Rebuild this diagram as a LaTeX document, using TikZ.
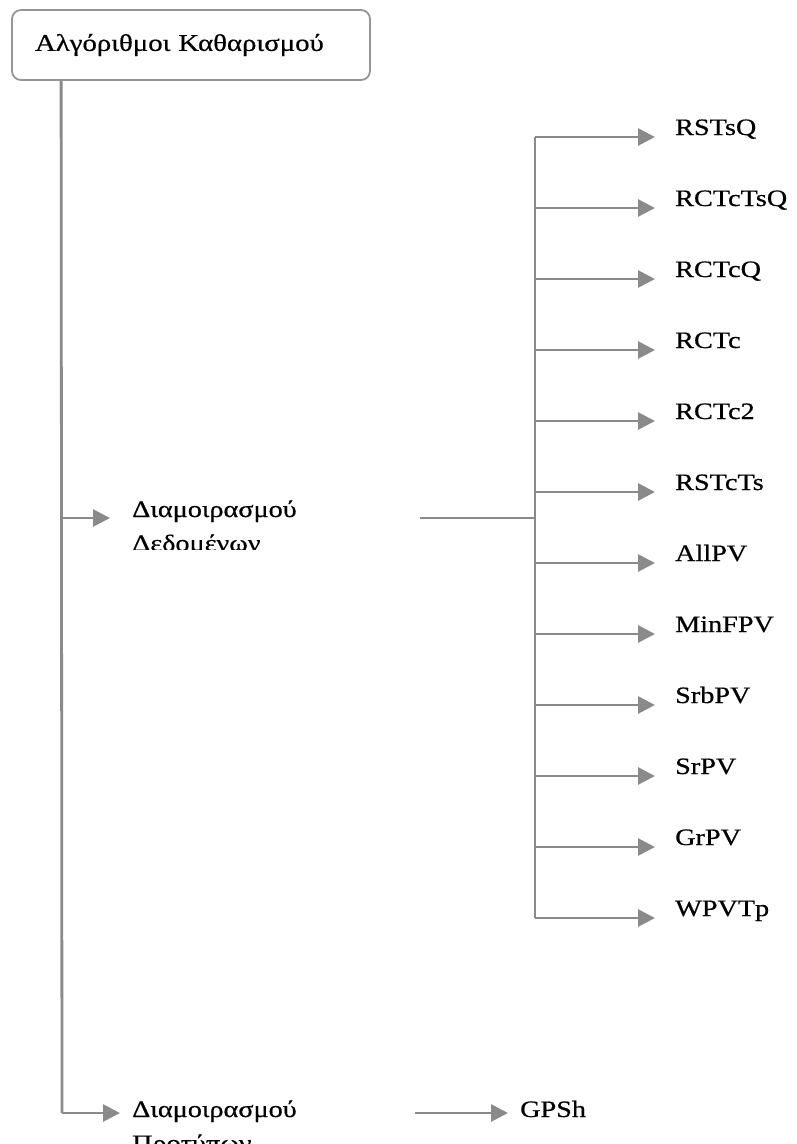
\documentclass[tikz,border=0pt]{standalone}
\usepackage{fontspec}
\setmainfont[FakeStretch=1.2,FakeBold=0.6]{Liberation Serif}
\usetikzlibrary{arrows.meta,positioning}

\definecolor{linkgray}{HTML}{8A8A8A}
\definecolor{boxgray}{HTML}{959595}

\tikzset{
  link/.style={draw=linkgray, line width=2.8pt},
  arr/.style={link, -{Triangle[length=17pt,width=17pt]}},
  leaf/.style={anchor=base west, inner sep=0pt, align=left,
    font=\fontsize{23.5}{34}\selectfont},
  rootbox/.style={draw=boxgray, line width=1.8pt, rounded corners=9pt,
    minimum width=358pt, minimum height=70pt, inner xsep=23pt,
    text width=312pt, align=left, font=\fontsize{24}{26}\selectfont},
}

\begin{document}
\begin{tikzpicture}[x=1pt,y=-1pt]
  \useasboundingbox (0,0) rectangle (796,1144);

  \node[rootbox] (root) at (191,45) {Αλγόριθμοι Καθαρισμού};

  \coordinate (trunktop) at ([xshift=50pt]root.south west);
  \coordinate (trunkdata) at (62,518);
  \coordinate (trunkend) at (62,1113);
  \draw[link] (trunktop) -- (trunkend);

  \begin{scope}
    \clip (120,470) rectangle (400,549);
    \node[leaf] (data) at (132,551) {Διαμοιρασμού\\Δεδομένων};
  \end{scope}
  \draw[arr] (trunkdata) -- ([xshift=-22pt]trunkdata -| data.west);

  \coordinate (hubin) at (420,518);
  \coordinate (hub) at (535,518);
  \coordinate (bustop) at (535,137);
  \coordinate (busend) at (535,918);
  \draw[link] (hubin) -- (hub);
  \draw[link] (bustop) -- (busend);

  \foreach \name [count=\i] in {RSTsQ,RCTcTsQ,RCTcQ,RCTc,RCTc2,RSTcTs,
      AllPV,MinFPV,SrbPV,SrPV,GrPV,WPVTp} {
    \coordinate (tap\i) at (535,{137+71*(\i-1)});
    \node[leaf] (alg\i) at (675,{135+71*(\i-1)}) {\name};
    \draw[arr] (tap\i) -- ([xshift=-20pt]tap\i -| alg\i.west);
  }

  \begin{scope}
    \clip (120,1080) rectangle (400,1144);
    \node[leaf] (pattern) at (132,1151) {Διαμοιρασμού\\Προτύπων};
  \end{scope}
  \draw[arr] (trunkend) -- ([xshift=-12pt]trunkend -| pattern.west);

  \coordinate (patternout) at (415,1113);
  \node[leaf] (gpsh) at (520,1117) {GPSh};
  \draw[arr] (patternout) -- ([xshift=-12pt]patternout -| gpsh.west);
\end{tikzpicture}
\end{document}
